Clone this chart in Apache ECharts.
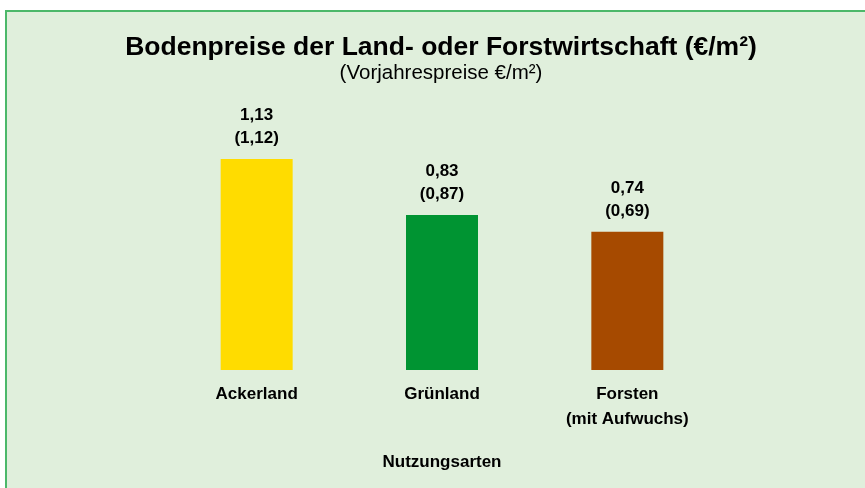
<!DOCTYPE html>
<html>
<head>
<meta charset="utf-8">
<script src="https://cdn.jsdelivr.net/npm/echarts@6/dist/echarts.min.js"></script>
<style>
    html, body { margin: 0; padding: 0; background: #fff; }
    #chart { width: 865px; height: 488px; }
</style>
</head>
<body>
<div id="chart"></div>
<script>
var categories = ['Ackerland', 'Grünland', 'Forsten\n(mit Aufwuchs)'];
var prices = [1.13, 0.83, 0.74];
var previous = [1.12, 0.87, 0.69];
var barColors = ['#ffdc00', '#009432', '#a64a00'];

var font = '"Liberation Sans", Arial, sans-serif';

function fmt(v) {
    return v.toFixed(2).replace('.', ',');
}

var chart = echarts.init(document.getElementById('chart'));
var option = {
    animation: false,
    graphic: [{
        type: 'rect',
        z: -10,
        shape: { x: 6, y: 11, width: 900, height: 520 },
        style: { fill: '#e0efdc', stroke: '#4cb86a', lineWidth: 2 }
    }],
    title: {
        text: 'Bodenpreise der Land- oder Forstwirtschaft (€/m²)',
        subtext: '(Vorjahrespreise €/m²)',
        left: 436,
        textAlign: 'center',
        top: 29,
        itemGap: 2,
        textStyle: {
            fontFamily: font,
            fontSize: 26.5,
            fontWeight: 'bold',
            color: '#000'
        },
        subtextStyle: {
            fontFamily: font,
            fontSize: 20.5,
            color: '#000'
        }
    },
    grid: {
        left: 164,
        right: 145,
        top: 146,
        bottom: 118
    },
    xAxis: {
        type: 'category',
        data: categories,
        name: 'Nutzungsarten',
        nameLocation: 'middle',
        nameGap: 84,
        nameTextStyle: {
            fontFamily: font,
            fontSize: 17,
            fontWeight: 'bold',
            color: '#000'
        },
        axisLine: { show: false },
        axisTick: { show: false },
        axisLabel: {
            margin: 12,
            fontFamily: font,
            fontSize: 17,
            fontWeight: 'bold',
            color: '#000',
            lineHeight: 25
        }
    },
    yAxis: {
        type: 'value',
        min: 0,
        max: 1.2,
        show: false,
        splitLine: { show: false }
    },
    series: [{
        type: 'bar',
        barWidth: 72,
        data: prices.map(function (v, i) {
            return { value: v, itemStyle: { color: barColors[i] } };
        }),
        label: {
            show: true,
            position: 'top',
            distance: 9,
            fontFamily: font,
            fontSize: 17,
            fontWeight: 'bold',
            color: '#000',
            lineHeight: 23,
            formatter: function (p) {
                return fmt(p.value) + '\n(' + fmt(previous[p.dataIndex]) + ')';
            }
        }
    }]
};
chart.setOption(option);
window.addEventListener('resize', function () {
    chart.resize();
});
</script>
</body>
</html>
